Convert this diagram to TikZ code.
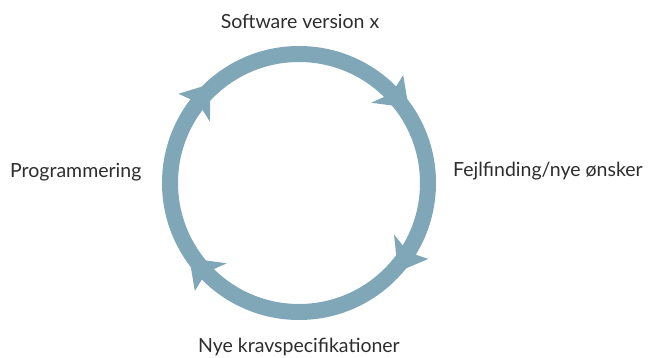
\documentclass[tikz,border=0pt]{standalone}
\usepackage{fontspec}
\setmainfont{Lato}
\usetikzlibrary{calc}
\definecolor{ringcol}{RGB}{127,167,184}
\definecolor{txtcol}{RGB}{45,45,45}
\begin{document}
\begin{tikzpicture}[x=1pt,y=1pt,
  lbl/.style={font=\fontsize{19.5}{23}\selectfont, text=txtcol, inner sep=0pt},
  ringline/.style={draw=ringcol, line width=16pt},
  head/.style={fill=ringcol}]
\useasboundingbox (0,0) rectangle (649,-358);
\coordinate (c) at (299,-183);
\draw[ringline] (c) circle[radius=129];
\foreach \a in {47,-29.4,227,144.5} {
  \fill[head] ($(c)+(\a-1:150)$) -- ($(c)+(\a-12.5:133)$) -- ($(c)+(\a+1:108)$) -- ($(c)+(\a-3:129)$) -- cycle;
}
\node[lbl, anchor=base] (top) at (300,-29) {Software version x};
\node[lbl, anchor=base west] (right) at (453,-177) {Fejlfinding/nye ønsker};
\node[lbl, anchor=base west] (left) at (10,-178) {Programmering};
\node[lbl, anchor=base] (bottom) at (299,-353) {Nye kravspecifikationer};
\end{tikzpicture}
\end{document}
